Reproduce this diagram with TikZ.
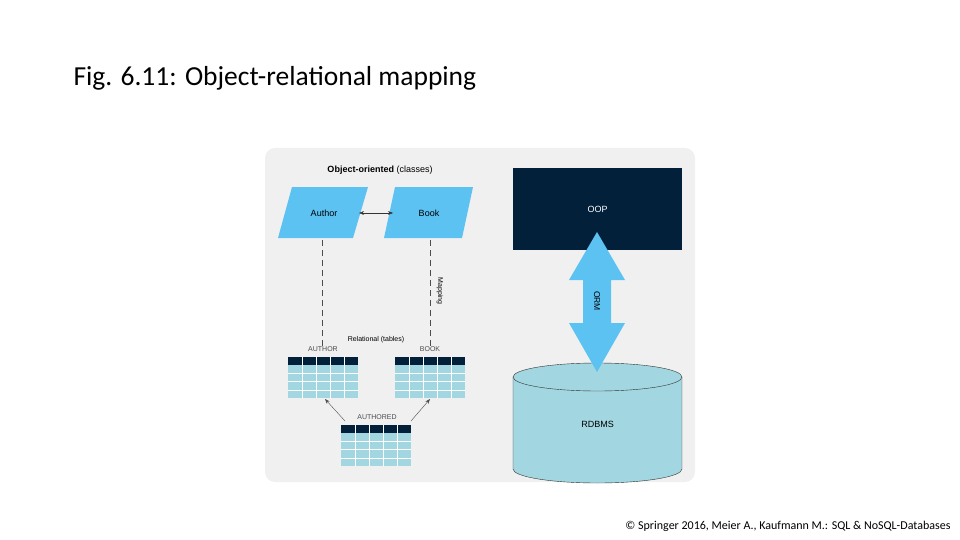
\documentclass[tikz,border=0pt]{standalone}
\usepackage{fontspec}
\setmainfont{Carlito}
\setsansfont{Liberation Sans}
\usetikzlibrary{arrows.meta,positioning,calc,shapes.arrows}
\definecolor{skyblue}{HTML}{5BC2F2}
\definecolor{navy}{HTML}{03203A}
\definecolor{tablecyan}{HTML}{A2D6E0}
\definecolor{panelgrey}{HTML}{F0F0F0}
\tikzset{
  heading/.style={font=\sffamily\bfseries\fontsize{9}{10}\selectfont},
  classtext/.style={font=\sffamily\fontsize{9}{10}\selectfont},
  caps/.style={font=\sffamily\fontsize{7}{8}\selectfont\color{black!70}},
  mapline/.style={thick,black!70,dash pattern=on 6pt off 4pt},
}
% draws a small table with its top left corner at #1
\newcommand{\tablegrid}[1]{
  \begin{scope}[shift={#1}]
    \fill[tablecyan] (0,0) rectangle (70,41);
    \fill[navy] (0,0) rectangle (70,8);
    \foreach \x in {14,28,...,56} \draw[white,thin] (\x,0) -- (\x,41);
    \foreach \y in {16.25,24.5,32.75} \draw[white,thin] (0,\y) -- (70,\y);
  \end{scope}
}
\begin{document}
\begin{tikzpicture}[x=1pt,y=-1pt]
		\useasboundingbox (0,0) rectangle (960,540);
		\node[anchor=west,font=\fontsize{27.5}{30}\selectfont] at (70,78) {Fig. 6.11: Object-relational mapping};
		\fill[panelgrey,rounded corners=10pt] (265,148) rectangle (695,482);
		\node[heading] at (380,170) {Object-oriented {\mdseries(classes)}};
		% classes
		\fill[skyblue] (292,187) -- (368,187) -- (353,238) -- (278,238) -- cycle;
		\fill[skyblue] (395,187) -- (473,187) -- (462,238) -- (384,238) -- cycle;
		\node[classtext] (author) at (324,213) {Author};
		\node[classtext] (book) at (429,213) {Book};
		\coordinate (al) at (359,213);
		\coordinate (bl) at (393,213);
		\draw[{Stealth[length=5pt]}-{Stealth[length=5pt]},black!80] (al) -- (bl);
		\coordinate (a1) at (322,240);
		\coordinate (a2) at (322,346);
		\coordinate (b1) at (430,240);
		\coordinate (b2) at (430,346);
		\draw[mapline] (a1) -- (a2);
		\draw[mapline] (b1) -- (b2);
		\node[rotate=-90,font=\sffamily\fontsize{7}{8}\selectfont] at (440,291) {Mapping};
		% tables
		\node[font=\sffamily\fontsize{7}{8}\selectfont] at (376,340) {Relational {(tables)}};
		\node[caps] (authortab) at (323,349.5) {AUTHOR};
		\node[caps] (booktab) at (430,349.5) {BOOK};
		\node[caps] (authored) at (377,417) {AUTHORED};
		\tablegrid{(288,357)}
		\tablegrid{(395,357)}
		\tablegrid{(341,425)}
		\coordinate (t1) at (345,421);
		\coordinate (t2) at (325,399);
		\coordinate (t3) at (411,421);
		\coordinate (t4) at (430,399);
		\draw[-{Stealth[length=5pt]},black!70] (t1) -- (t2);
		\draw[-{Stealth[length=5pt]},black!70] (t3) -- (t4);
		% right side
		\node[fill=navy,minimum width=169pt,minimum height=82pt,inner sep=0pt] (oop) at (597.5,209) {};
		\node[text=white,font=\sffamily\fontsize{9}{10}\selectfont] at (597.5,209) {OOP};
		\fill[tablecyan] (513,377) rectangle (682,469);
		\fill[tablecyan] (597.5,469) ellipse[x radius=84.5pt,y radius=14pt];
		\draw[black!80,thin] (513,377) -- (513,469) arc[start angle=180,end angle=360,x radius=84.5pt,y radius=14pt] -- (682,377);
		\draw[black!80,thin,fill=tablecyan] (597.5,377) ellipse[x radius=84.5pt,y radius=14pt];
		\node[font=\sffamily\fontsize{9}{10}\selectfont] (rdbms) at (597.5,424) {RDBMS};
		\fill[skyblue] (597,232) -- (625,280) -- (611,280) -- (611,323) -- (625,323) -- (597,372) -- (569,323) -- (583,323) -- (583,280) -- (569,280) -- cycle;
		\node[rotate=-90,font=\sffamily\fontsize{8.5}{9}\selectfont] (orm) at (597,301) {ORM};
		\node[anchor=east,font=\fontsize{12}{14}\selectfont] at (954,526) {\textcopyright{} Springer 2016, Meier A., Kaufmann M.: SQL \& NoSQL-Databases};
\end{tikzpicture}
\end{document}
